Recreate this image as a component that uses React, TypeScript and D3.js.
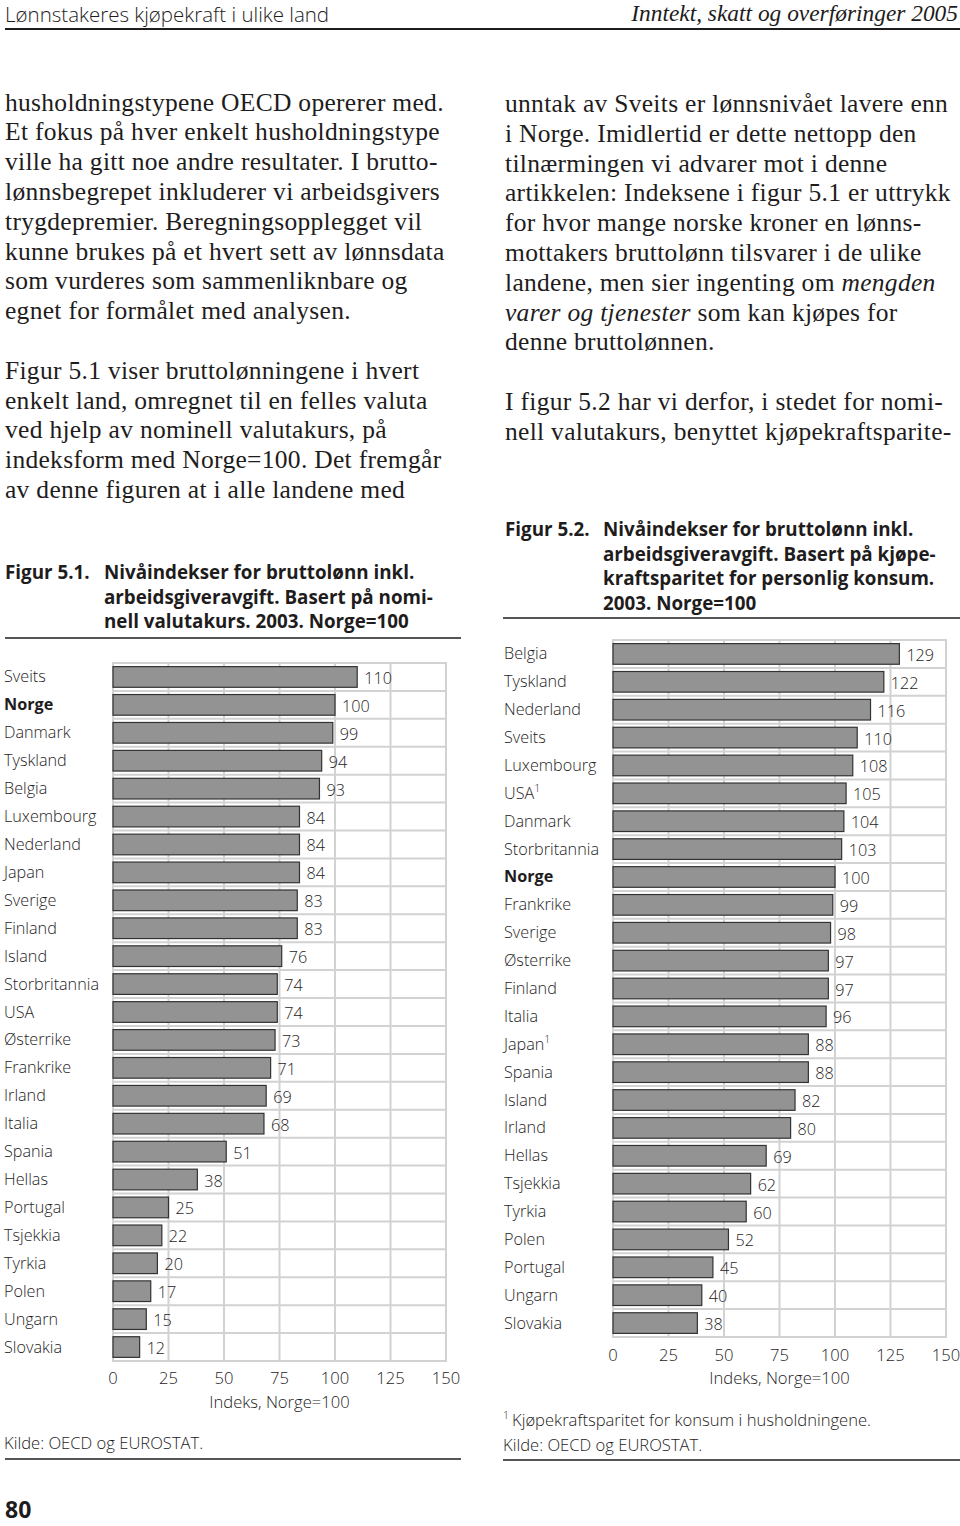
import React from "react";
import * as d3 from "d3";

// ---------- DATA ----------
const fig1Categories = [
  "Sveits", "Norge", "Danmark", "Tyskland", "Belgia", "Luxembourg", "Nederland", "Japan",
  "Sverige", "Finland", "Island", "Storbritannia", "USA", "Østerrike", "Frankrike", "Irland",
  "Italia", "Spania", "Hellas", "Portugal", "Tsjekkia", "Tyrkia", "Polen", "Ungarn", "Slovakia",
];
const fig1Values = [110, 100, 99, 94, 93, 84, 84, 84, 83, 83, 76, 74, 74, 73, 71, 69, 68, 51, 38, 25, 22, 20, 17, 15, 12];

const fig2Categories = [
  "Belgia", "Tyskland", "Nederland", "Sveits", "Luxembourg", "USA", "Danmark", "Storbritannia",
  "Norge", "Frankrike", "Sverige", "Østerrike", "Finland", "Italia", "Japan", "Spania",
  "Island", "Irland", "Hellas", "Tsjekkia", "Tyrkia", "Polen", "Portugal", "Ungarn", "Slovakia",
];
const fig2Values = [129, 122, 116, 110, 108, 105, 104, 103, 100, 99, 98, 97, 97, 96, 88, 88, 82, 80, 69, 62, 60, 52, 45, 40, 38];
const fig2Footnoted = ["USA", "Japan"];

const boldCategories = ["Norge"];
const xTicks = [0, 25, 50, 75, 100, 125, 150];
const xDomain = [0, 150];
const axisTitle = "Indeks, Norge=100";

const headerLeft = "Lønnstakeres kjøpekraft i ulike land";
const headerRight = "Inntekt, skatt og overføringer 2005";
const pageNumber = "80";

const leftText = [
  "husholdningstypene OECD opererer med.",
  "Et fokus på hver enkelt husholdningstype",
  "ville ha gitt noe andre resultater. I brutto-",
  "lønnsbegrepet inkluderer vi arbeidsgivers",
  "trygdepremier. Beregningsopplegget vil",
  "kunne brukes på et hvert sett av lønnsdata",
  "som vurderes som sammenliknbare og",
  "egnet for formålet med analysen.",
  "",
  "Figur 5.1 viser bruttolønningene i hvert",
  "enkelt land, omregnet til en felles valuta",
  "ved hjelp av nominell valutakurs, på",
  "indeksform med Norge=100. Det fremgår",
  "av denne figuren at i alle landene med",
];
const rightText = [
  "unntak av Sveits er lønnsnivået lavere enn",
  "i Norge. Imidlertid er dette nettopp den",
  "tilnærmingen vi advarer mot i denne",
  "artikkelen: Indeksene i figur 5.1 er uttrykk",
  "for hvor mange norske kroner en lønns-",
  "mottakers bruttolønn tilsvarer i de ulike",
  "landene, men sier ingenting om *mengden*",
  "*varer og tjenester* som kan kjøpes for",
  "denne bruttolønnen.",
  "",
  "I figur 5.2 har vi derfor, i stedet for nomi-",
  "nell valutakurs, benyttet kjøpekraftsparite-",
];

const fig1Label = "Figur 5.1.";
const fig1Title = ["Nivåindekser for bruttolønn inkl.", "arbeidsgiveravgift. Basert på nomi-", "nell valutakurs. 2003. Norge=100"];
const fig2Label = "Figur 5.2.";
const fig2Title = ["Nivåindekser for bruttolønn inkl.", "arbeidsgiveravgift. Basert på kjøpe-", "kraftsparitet for personlig konsum.", "2003. Norge=100"];
const fig2Footnote = "Kjøpekraftsparitet for konsum i husholdningene.";
const sourceText = "Kilde: OECD og EUROSTAT.";

// ---------- STYLE ----------
const SANS = "'Open Sans', 'Noto Sans', sans-serif";
const SERIF = "'Liberation Serif', 'Times New Roman', serif";
const INK = "#1e1c1c";
const GRID = "#d2d2d2";
const BAR = "#939393";
const BAR_EDGE = "#333333";
const LABEL_SIZE = 16.2;
const NOTE_SIZE = 16.6;

function renderRich(line: string) {
  const parts = line.split("*");
  return parts.map((p, i) => (
    <tspan key={i} fontStyle={i % 2 === 1 ? "italic" : "normal"}>{p}</tspan>
  ));
}

function TextColumn({ lines, x, y0, step }: { lines: string[]; x: number; y0: number; step: number }) {
  return (
    <g fontFamily={SERIF} fontSize={25.5} fill={INK} letterSpacing={0.3}>
      {lines.map((l, i) =>
        l ? (
          <text key={i} x={x} y={y0 + i * step}>{renderRich(l)}</text>
        ) : null
      )}
    </g>
  );
}

function FigTitle({ label, lines, x, xText, y0, step }: { label: string; lines: string[]; x: number; xText: number; y0: number; step: number }) {
  return (
    <g fontFamily={SANS} fontWeight={700} fontSize={18.8} fill={INK}>
      <text x={x} y={y0}>{label}</text>
      {lines.map((l, i) => (
        <text key={i} x={xText} y={y0 + i * step}>{l}</text>
      ))}
    </g>
  );
}

function BarChart({
  categories, values, footnoted, x0, x1, y0, y1, labelX, tickY, titleY,
}: {
  categories: string[]; values: number[]; footnoted: string[];
  x0: number; x1: number; y0: number; y1: number; labelX: number; tickY: number; titleY: number;
}) {
  const x = d3.scaleLinear().domain(xDomain).range([x0, x1]);
  const y = d3.scaleBand<string>().domain(categories).range([y0, y1]).paddingInner(0).paddingOuter(0);
  const step = y.bandwidth();
  const barH = step * 0.74;
  return (
    <g>
      {/* grid */}
      {categories.slice(1).map((c) => (
        <line key={"h" + c} x1={x0} x2={x1} y1={y(c)!} y2={y(c)!} stroke={GRID} strokeWidth={2} />
      ))}
      {xTicks.slice(1, -1).map((t) => (
        <line key={"v" + t} x1={x(t)} x2={x(t)} y1={y0} y2={y1} stroke={GRID} strokeWidth={2} />
      ))}
      <rect x={x0} y={y0} width={x1 - x0} height={y1 - y0} fill="none" stroke={GRID} strokeWidth={2} />
      {/* bars */}
      {categories.map((c, i) => {
        const by = y(c)! + (step - barH) / 2;
        return (
          <g key={c}>
            <rect x={x(0)} y={by} width={x(values[i]) - x(0)} height={barH} fill={BAR} stroke={BAR_EDGE} strokeWidth={1.2} />
            <text x={x(values[i]) + 7} y={y(c)! + step / 2 + 7} fontFamily={SANS} fontSize={LABEL_SIZE} fontWeight={300} fill={INK}>
              {values[i]}
            </text>
            <text x={labelX} y={y(c)! + step / 2 + 5.5} fontFamily={SANS} fontSize={LABEL_SIZE}
              fontWeight={boldCategories.includes(c) ? 700 : 300} fill={INK}>
              {c}
              {footnoted.includes(c) ? <tspan fontSize={10.5} dy={-7}>1</tspan> : null}
            </text>
          </g>
        );
      })}
      {/* axis */}
      {xTicks.map((t) => (
        <text key={"t" + t} x={x(t)} y={tickY} textAnchor="middle" fontFamily={SANS} fontSize={NOTE_SIZE} fontWeight={300} fill={INK}>
          {t}
        </text>
      ))}
      <text x={x(75)} y={titleY} textAnchor="middle" fontFamily={SANS} fontSize={NOTE_SIZE} fontWeight={300} fill={INK}>
        {axisTitle}
      </text>
    </g>
  );
}

export default function App() {
  return (
    <svg width={960} height={1526} style={{ position: "absolute", left: 0, top: 0, background: "#fff" }}>
      <rect x={0} y={0} width={960} height={1526} fill="#fff" />
      {/* header */}
      <text x={5} y={21.5} fontFamily={SANS} fontWeight={300} fontSize={20.5} fill={INK}>{headerLeft}</text>
      <text x={958} y={21} textAnchor="end" fontFamily={SERIF} fontStyle="italic" fontSize={23.4} fill={INK}>{headerRight}</text>
      <line x1={5} x2={960} y1={29} y2={29} stroke={INK} strokeWidth={2} />

      {/* body text */}
      <TextColumn lines={leftText} x={5} y0={110.5} step={29.8} />
      <TextColumn lines={rightText} x={505} y0={112} step={29.8} />

      {/* figure 5.1 */}
      <FigTitle label={fig1Label} lines={fig1Title} x={5} xText={104} y0={579} step={24.5} />
      <line x1={5} x2={461} y1={638} y2={638} stroke={INK} strokeWidth={1.3} />
      <BarChart categories={fig1Categories} values={fig1Values} footnoted={[]}
        x0={113} x1={446} y0={663} y1={1361} labelX={4} tickY={1384} titleY={1408} />
      <text x={4} y={1449} fontFamily={SANS} fontSize={NOTE_SIZE} fontWeight={300} fill={INK}>{sourceText}</text>
      <line x1={5} x2={461} y1={1459} y2={1459} stroke={INK} strokeWidth={1.3} />

      {/* figure 5.2 */}
      <FigTitle label={fig2Label} lines={fig2Title} x={505} xText={603} y0={536} step={24.5} />
      <line x1={503} x2={960} y1={618} y2={618} stroke={INK} strokeWidth={1.3} />
      <BarChart categories={fig2Categories} values={fig2Values} footnoted={fig2Footnoted}
        x0={613} x1={946} y0={640} y1={1337} labelX={504} tickY={1361} titleY={1384} />
      <text x={503} y={1426} fontFamily={SANS} fontSize={NOTE_SIZE} fontWeight={300} fill={INK}>
        <tspan fontSize={10.5} dy={-7}>1</tspan>
        <tspan dy={7} dx={3}>{fig2Footnote}</tspan>
      </text>
      <text x={503} y={1451} fontFamily={SANS} fontSize={NOTE_SIZE} fontWeight={300} fill={INK}>{sourceText}</text>
      <line x1={503} x2={960} y1={1460} y2={1460} stroke={INK} strokeWidth={1.3} />

      {/* page number */}
      <text x={5} y={1518} fontFamily={SANS} fontWeight={700} fontSize={23} fill={INK}>{pageNumber}</text>
    </svg>
  );
}
